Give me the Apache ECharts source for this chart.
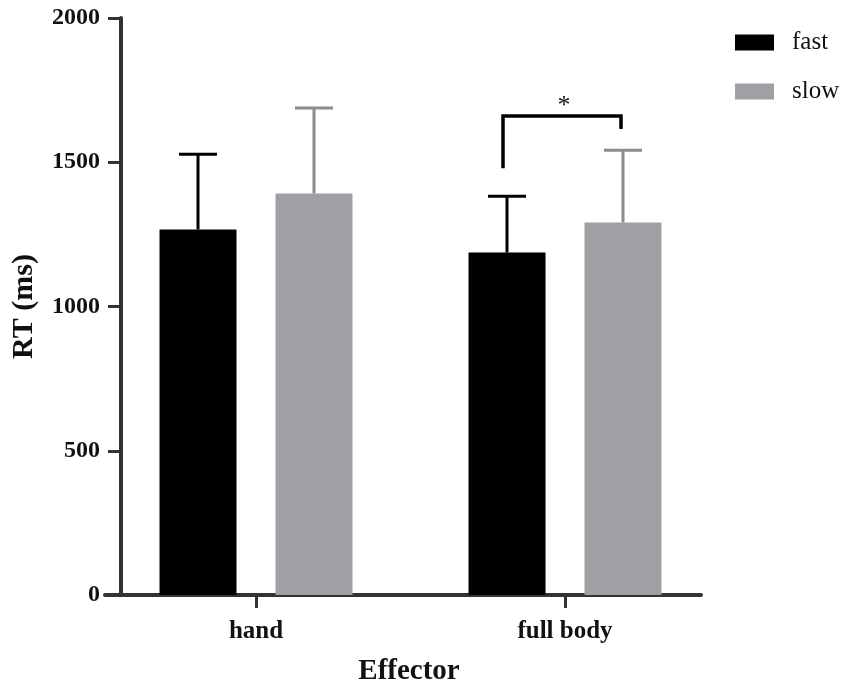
<!DOCTYPE html>
<html>
<head>
  <meta charset="utf-8">
  <title>RT by effector</title>
  <script src="https://cdn.jsdelivr.net/npm/echarts@6.0.0/dist/echarts.min.js"></script>
  <style>
    html, body { margin: 0; padding: 0; background: #fff; }
    #main { width: 851px; height: 693px; }
  </style>
</head>
<body>
  <div id="main"></div>
  <script>
  // values (ms), error bars are +SD only
  var categories = ['hand', 'full body'];
  var fastMean = [1267, 1187];
  var fastSD = [261, 195];
  var slowMean = [1392, 1291];
  var slowSD = [296, 251];
  var yTicks = [0, 500, 1000, 1500, 2000];
  // significance bracket on full body: top, left foot, right foot
  var sigBracket = [1, 1660, 1479, 1615];

  var serif = '"Liberation Serif", "DejaVu Serif", serif';
  var axisColor = '#333';

  function pairs(mean, sd) {
    return mean.map(function (m, i) { return [i, m, sd[i]]; });
  }

  function barRenderer(offset, fill, errColor) {
    return function (params, api) {
      var x = api.value(0), m = api.value(1), sd = api.value(2);
      var base = api.coord([x, 0]);
      var top = api.coord([x, m]);
      var err = api.coord([x, m + sd]);
      var cx = base[0] + offset;
      var w = 77, cap = 38;
      return {
        type: 'group',
        children: [
          { type: 'line', shape: { x1: cx, y1: top[1], x2: cx, y2: err[1] },
            style: { stroke: errColor, lineWidth: 3 } },
          { type: 'line', shape: { x1: cx - cap / 2, y1: err[1], x2: cx + cap / 2, y2: err[1] },
            style: { stroke: errColor, lineWidth: 3 } },
          { type: 'rect', shape: { x: cx - w / 2, y: top[1], width: w, height: base[1] - top[1] },
            style: { fill: fill } }
        ]
      };
    };
  }

  var chart = echarts.init(document.getElementById('main'));
  chart.setOption({
    animation: false,
    backgroundColor: '#fff',
    grid: { left: 105, right: 150, top: 18, bottom: 98, outerBoundsMode: 'none' },
    legend: {
      orient: 'vertical',
      left: 730,
      top: 25,
      itemWidth: 39,
      itemHeight: 16,
      itemGap: 24,
      data: [{ name: 'fast', icon: 'rect' }, { name: 'slow', icon: 'rect' }],
      textStyle: { fontFamily: serif, fontSize: 25, color: '#111', padding: [0, 0, 0, 13] }
    },
    xAxis: {
      type: 'value',
      min: -0.4887,
      max: 1.4401,
      name: 'Effector',
      nameLocation: 'middle',
      nameGap: 62,
      nameTextStyle: { fontFamily: serif, fontSize: 29, fontWeight: 'bold', color: '#111', padding: [0, 0, 0, 12] },
      splitLine: { show: false },
      axisLine: { show: true, onZero: false, lineStyle: { color: axisColor, width: 4 } },
      axisTick: { show: true, customValues: [0, 1], length: 13, lineStyle: { color: axisColor, width: 3 } },
      axisLabel: {
        customValues: [0, 1],
        margin: 24,
        fontFamily: serif, fontSize: 25, fontWeight: 'bold', color: '#111',
        formatter: function (v) { return categories[Math.round(v)]; }
      }
    },
    yAxis: {
      type: 'value',
      min: yTicks[0],
      max: yTicks[yTicks.length - 1],
      interval: 500,
      offset: -16,
      name: 'RT (ms)',
      nameLocation: 'middle',
      nameRotate: 90,
      nameGap: 82,
      nameTextStyle: { fontFamily: serif, fontSize: 30, fontWeight: 'bold', color: '#111' },
      splitLine: { show: false },
      axisLine: { show: true, onZero: false, lineStyle: { color: axisColor, width: 4 } },
      axisTick: { show: true, length: 13, lineStyle: { color: axisColor, width: 3 } },
      axisLabel: {
        margin: 21, fontFamily: serif, fontSize: 24, fontWeight: 'bold', color: '#111',
        formatter: function (v) { return String(v); }
      }
    },
    series: [
      {
        name: 'fast',
        type: 'custom',
        itemStyle: { color: '#000' },
        encode: { x: 0, y: 1 },
        data: pairs(fastMean, fastSD),
        renderItem: barRenderer(-58, '#000', '#000')
      },
      {
        name: 'slow',
        type: 'custom',
        itemStyle: { color: '#a0a0a4' },
        encode: { x: 0, y: 1 },
        data: pairs(slowMean, slowSD),
        renderItem: barRenderer(58, '#a0a0a4', '#8c8c8f')
      },
      {
        name: 'sig',
        type: 'custom',
        encode: { x: 0, y: 1 },
        data: [sigBracket],
        renderItem: function (params, api) {
          var x = api.value(0);
          var t = api.coord([x, api.value(1)]);
          var l = api.coord([x, api.value(2)]);
          var r = api.coord([x, api.value(3)]);
          var x1 = t[0] - 62, x2 = t[0] + 56;
          return {
            type: 'group',
            children: [
              { type: 'polyline',
                shape: { points: [[x1, l[1]], [x1, t[1]], [x2, t[1]], [x2, r[1]]] },
                style: { stroke: '#000', lineWidth: 3.5, fill: null } },
              { type: 'text',
                style: { text: '*', x: (x1 + x2) / 2 + 2, y: t[1] + 3, align: 'center', verticalAlign: 'bottom',
                         font: '26px ' + serif, fill: '#111' } }
            ]
          };
        }
      }
    ]
  });
  </script>
</body>
</html>
